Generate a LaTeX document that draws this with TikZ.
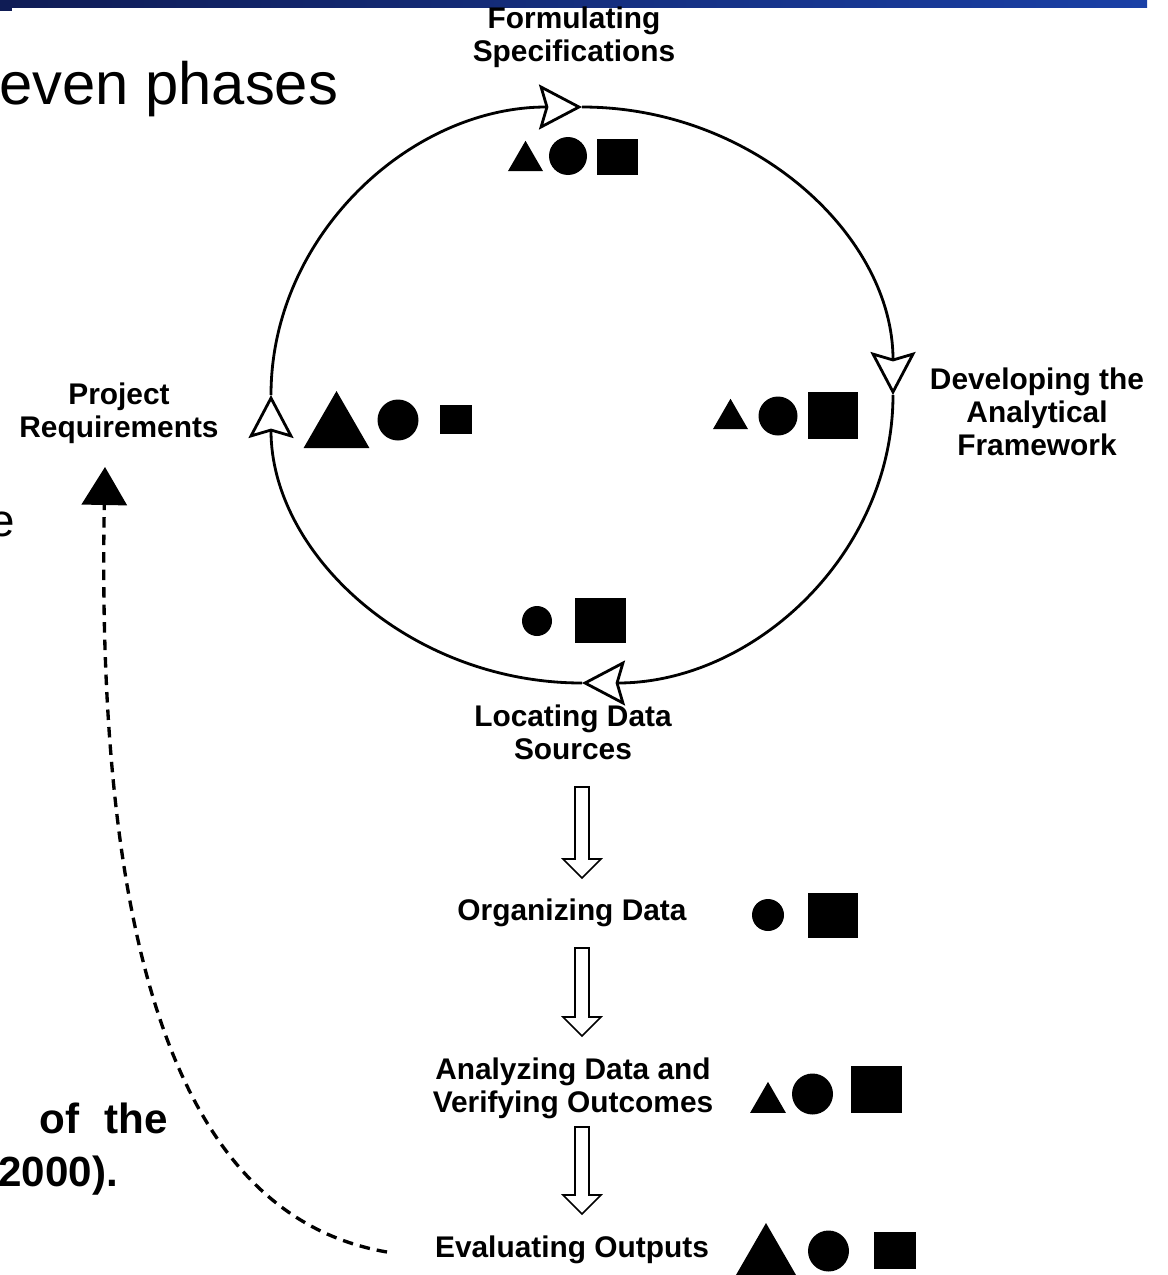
\documentclass[tikz,border=0pt]{standalone}
\usepackage{fontspec}
\setmainfont{Liberation Sans}
\usetikzlibrary{arrows.meta}
\usetikzlibrary{shapes.geometric}

\definecolor{slidenavy}{HTML}{0F1C55}
\definecolor{slideblue}{HTML}{1A40A6}

\begin{document}
\begin{tikzpicture}[x=0.02cm, y=-0.02cm,
	phase/.style={align=center, inner sep=0pt, font=\fontsize{17}{18.8}\selectfont\bfseries},
	tri/.style={regular polygon, regular polygon sides=3, fill=black, inner sep=0pt, minimum size=#1},
	disc/.style={circle, fill=black, inner sep=0pt, minimum size=#1},
	sqr/.style 2 args={rectangle, fill=black, inner sep=0pt, minimum width=#1, minimum height=#2},
	ring/.style={line width=1.6pt, -{Stealth[open, length=0.86cm, width=0.9cm, inset=0.13cm]}},
	blockarrow/.style={draw, line width=0.9pt, line join=miter},
	feedback/.style={line width=1.9pt, dash pattern=on 0.21cm off 0.14cm, -{Triangle[length=0.76cm, width=0.9cm]}}]
	\useasboundingbox (0,0) rectangle (1168,1275);
	%Slide remains
	\shade[left color=slidenavy, right color=slideblue] (0,0) rectangle (1147,7);
	\fill[slidenavy] (0,0) rectangle (12,11);
	\node[anchor=base west, inner sep=0pt, font=\fontsize{34}{40}\selectfont] (title) at (-1,104) {even phases};
	\node[anchor=base east, inner sep=0pt, font=\fontsize{26}{30}\selectfont] (cute) at (15,536) {e};
	\node[anchor=base east, inner sep=0pt, font=\fontsize{24}{28}\selectfont\bfseries] (capa) at (168,1133) {of\hspace{0.5cm}the};
	\node[anchor=base west, inner sep=0pt, font=\fontsize{24}{28}\selectfont\bfseries] (capb) at (-2,1186) {2000).};
	%Cycle phases
	\node[phase] (formulating) at (574,37) {Formulating\\Specifications};
	\node[phase] (developing) at (1037,412) {Developing the\\Analytical\\Framework};
	\node[phase] (locating) at (573,732) {Locating Data\\Sources};
	\node[phase] (project) at (119,413) {Project\\Requirements};
	\coordinate (ptop) at (582,107);
	\coordinate (pright) at (893,395);
	\coordinate (pbottom) at (582,683);
	\coordinate (pleft) at (271,395);
	\draw[ring] (pleft) arc[start angle=180, end angle=270, x radius=311, y radius=288];
	\draw[ring] (ptop) arc[start angle=270, end angle=360, x radius=311, y radius=288];
	\draw[ring] (pright) arc[start angle=0, end angle=90, x radius=311, y radius=288];
	\draw[ring] (pbottom) arc[start angle=90, end angle=180, x radius=311, y radius=288];
	%Markers on the cycle
	\node[tri=0.81cm] (ftri) at (525.5,161) {};
	\node[disc=0.76cm] (fdisc) at (568,156) {};
	\node[sqr={0.82cm}{0.72cm}] (fsqr) at (617,157) {};
	\node[tri=0.81cm] (dtri) at (730.5,419) {};
	\node[disc=0.78cm] (ddisc) at (778,416) {};
	\node[sqr={1cm}{0.94cm}] (dsqr) at (833,415.5) {};
	\node[tri=1.52cm] (ptri) at (336.5,429) {};
	\node[disc=0.82cm] (pdisc) at (398,420) {};
	\node[sqr={0.64cm}{0.58cm}] (psqr) at (456,419.5) {};
	\node[disc=0.6cm] (ldisc) at (537,621) {};
	\node[sqr={1.02cm}{0.9cm}] (lsqr) at (600.5,620.5) {};
	%Linear phases
	\node[phase] (organizing) at (572,913) {Organizing Data};
	\node[phase] (analyzing) at (573,1088) {Analyzing Data and\\Verifying Outcomes};
	\node[phase] (evaluating) at (572,1250) {Evaluating Outputs};
	\coordinate (down1) at (582,787);
	\coordinate (down2) at (582,948);
	\coordinate (down3) at (582,1127);
	\draw[blockarrow] (down1) ++(-7,0) -- ++(0,72) -- ++(-12,0) -- ++(19,19) -- ++(19,-19) -- ++(-12,0) -- ++(0,-72) -- cycle;
	\draw[blockarrow] (down2) ++(-7,0) -- ++(0,69) -- ++(-12,0) -- ++(19,19) -- ++(19,-19) -- ++(-12,0) -- ++(0,-69) -- cycle;
	\draw[blockarrow] (down3) ++(-7,0) -- ++(0,68) -- ++(-12,0) -- ++(19,19) -- ++(19,-19) -- ++(-12,0) -- ++(0,-68) -- cycle;
	\node[disc=0.64cm] (odisc) at (768,915) {};
	\node[sqr={1cm}{0.9cm}] (osqr) at (833,915.5) {};
	\node[tri=0.83cm] (atri) at (768,1102.6) {};
	\node[disc=0.82cm] (adisc) at (812.5,1094) {};
	\node[sqr={1.02cm}{0.94cm}] (asqr) at (876.5,1089.5) {};
	\node[tri=1.52cm] (etri) at (766,1261) {};
	\node[disc=0.82cm] (edisc) at (828.5,1251) {};
	\node[sqr={0.84cm}{0.74cm}] (esqr) at (895,1250.5) {};
	%Feedback
	\coordinate (fbstart) at (387,1252);
	\coordinate (fbend) at (105,467);
	\draw[feedback] (fbstart) .. controls (200,1220) and (95,1000) .. (fbend);
\end{tikzpicture}
\end{document}
